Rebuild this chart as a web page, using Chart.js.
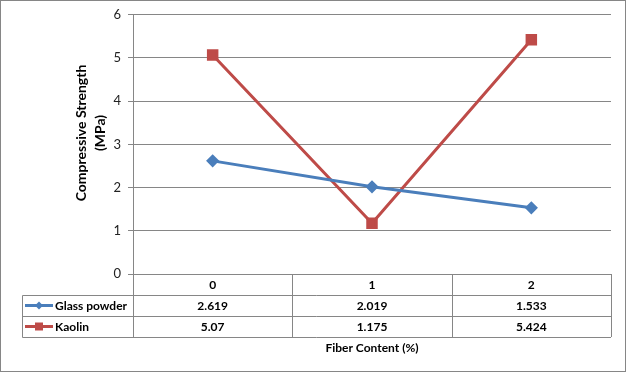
<!DOCTYPE html>
<html><head><meta charset="utf-8">
<script src="https://cdn.jsdelivr.net/npm/chart.js@4"></script>
<style>html,body{margin:0;padding:0;background:#fff}#wrap{width:626px;height:372px;position:relative}</style>
</head><body><div id="wrap"><canvas id="c" width="626" height="372"></canvas></div>
<script>
const categories = ['0', '1', '2'];
const glassPowder = [2.619, 2.019, 1.533];
const kaolin = [5.07, 1.175, 5.424];
const glassLabels = ['2.619', '2.019', '1.533'];
const kaolinLabels = ['5.07', '1.175', '5.424'];
const yTitle = ['Compressive Strength', '(MPa)'];
const xTitle = 'Fiber Content (%)';

const FONT = 'Lato, "Liberation Sans", sans-serif';
const GRID = '#868686';
const BLUE = '#4A7EBB';
const RED = '#BE4B48';

const tablePlugin = {
  id: 'tablePlugin',
  afterDraw(chart) {
    const ctx = chart.ctx;
    const a = chart.chartArea;
    const xs = chart.scales.x;
    const colW = (a.right - a.left) / categories.length;
    const rowH = 21;
    const top = a.bottom;
    const legLeft = 22;
    ctx.save();
    ctx.strokeStyle = GRID;
    ctx.lineWidth = 1;
    ctx.strokeRect(0.5, 0.5, chart.width - 1, chart.height - 1);
    ctx.beginPath();
    ctx.moveTo(Math.round(a.left) + 0.5, top);
    ctx.lineTo(Math.round(a.left) + 0.5, top + rowH * 3);
    for (let i = 1; i <= categories.length; i++) {
      const x = Math.round(a.left + i * colW) + 0.5;
      ctx.moveTo(x, top);
      ctx.lineTo(x, top + rowH * 3);
    }
    for (let r = 1; r <= 3; r++) {
      const y = Math.round(top + r * rowH) + 0.5;
      ctx.moveTo(legLeft + 0.5, y);
      ctx.lineTo(a.right, y);
    }
    ctx.moveTo(legLeft + 0.5, Math.round(top + rowH) + 0.5);
    ctx.lineTo(legLeft + 0.5, Math.round(top + rowH * 3) + 0.5);
    ctx.stroke();

    ctx.fillStyle = '#000';
    ctx.textAlign = 'center';
    ctx.textBaseline = 'middle';
    ctx.font = 'bold 12px ' + FONT;
    categories.forEach((c, i) => {
      const x = xs.getPixelForValue(i);
      ctx.fillText(c, x, top + rowH * 0.5 + 1);
      ctx.fillText(glassLabels[i], x, top + rowH * 1.5 + 1);
      ctx.fillText(kaolinLabels[i], x, top + rowH * 2.5 + 1);
    });
    const series = [
      {label: 'Glass powder', color: BLUE, style: 'diamond'},
      {label: 'Kaolin', color: RED, style: 'rect'}
    ];
    series.forEach((s, r) => {
      const y = top + rowH * (1.5 + r);
      ctx.strokeStyle = s.color;
      ctx.lineWidth = 3;
      ctx.beginPath();
      ctx.moveTo(25, y); ctx.lineTo(53, y); ctx.stroke();
      ctx.fillStyle = s.color;
      ctx.beginPath();
      if (s.style === 'diamond') {
        ctx.moveTo(39, y - 4); ctx.lineTo(43, y); ctx.lineTo(39, y + 4); ctx.lineTo(35, y); ctx.closePath();
      } else {
        ctx.rect(35, y - 4, 8, 8);
      }
      ctx.fill();
      ctx.fillStyle = '#000';
      ctx.textAlign = 'left';
      ctx.font = 'bold 12px ' + FONT;
      ctx.fillText(s.label, 55, y + 1);
    });
    ctx.textAlign = 'center';
    ctx.font = 'bold 12px ' + FONT;
    ctx.fillText(xTitle, (a.left + a.right) / 2, 348);
    ctx.save();
    ctx.translate(90, 133);
    ctx.rotate(-Math.PI / 2);
    ctx.font = 'bold 14px ' + FONT;
    ctx.fillText(yTitle[0], 0, -9);
    ctx.fillText(yTitle[1], 0, 10);
    ctx.restore();
    ctx.restore();
  }
};

new Chart(document.getElementById('c'), {
  type: 'line',
  data: {
    labels: categories,
    datasets: [
      {label: 'Glass powder', data: glassPowder, borderColor: BLUE, backgroundColor: BLUE, borderWidth: 3,
       pointStyle: 'rectRot', pointRadius: 4.5, pointHoverRadius: 4.5, tension: 0},
      {label: 'Kaolin', data: kaolin, borderColor: RED, backgroundColor: RED, borderWidth: 3,
       pointStyle: 'rect', pointRadius: 6, pointHoverRadius: 6, tension: 0}
    ]
  },
  options: {
    responsive: false,
    animation: false,
    devicePixelRatio: 1,
    layout: {padding: {top: 14, right: 15, bottom: 98, left: 0}},
    plugins: {legend: {display: false}, tooltip: {enabled: false}},
    scales: {
      x: {display: false, offset: true},
      y: {
        min: 0, max: 6,
        afterFit: s => { s.width = 133; },
        ticks: {stepSize: 1, padding: 7, color: '#222', font: {family: FONT, size: 13}},
        grid: {color: GRID, lineWidth: 1, tickLength: 5, drawTicks: true},
        border: {color: GRID, width: 1}
      }
    }
  },
  plugins: [tablePlugin]
});
</script></body></html>
